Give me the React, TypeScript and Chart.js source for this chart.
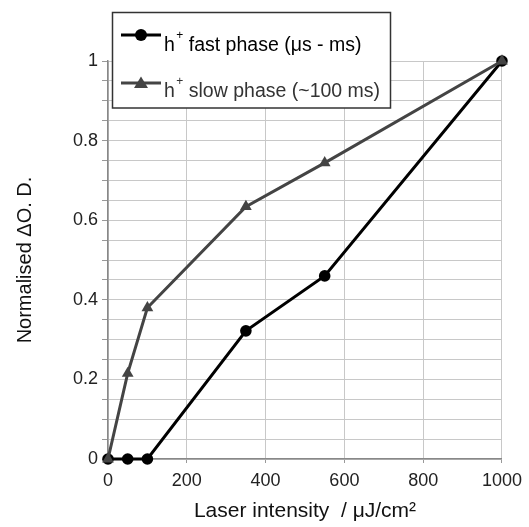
import React, { useEffect, useRef } from "react";
import { Chart, registerables } from "chart.js";

Chart.register(...registerables);

const intensities = [0, 50, 100, 350, 550, 1000];
const fastPhase = [0, 0, 0, 0.322, 0.46, 1];
const slowPhase = [0, 0.215, 0.38, 0.634, 0.744, 1];
const seriesLabels = ["fast phase (\u03bcs - ms)", "slow phase (~100 ms)"];
const xTitle = "Laser intensity  / \u03bcJ/cm\u00b2";
const yTitle = "Normalised \u0394O. D.";

const FONT = "'Liberation Sans', Arial, sans-serif";

const legendPlugin = {
  id: "customLegend",
  afterDraw(chart: any) {
    const ctx = chart.ctx as CanvasRenderingContext2D;
    ctx.save();
    ctx.fillStyle = "#fff";
    ctx.fillRect(112.5, 12.5, 278, 95.5);
    ctx.strokeStyle = "#333";
    ctx.lineWidth = 1.5;
    ctx.strokeRect(112.5, 12.5, 278, 95.5);
    const entries = [
      { color: "#000", ly: 35, ty: 51, marker: "circle", text: seriesLabels[0], tcolor: "#000" },
      { color: "#444", ly: 83, ty: 97, marker: "tri", text: seriesLabels[1], tcolor: "#333" },
    ];
    for (const e of entries) {
      ctx.strokeStyle = e.color;
      ctx.lineWidth = 3;
      ctx.beginPath();
      ctx.moveTo(121, e.ly);
      ctx.lineTo(161, e.ly);
      ctx.stroke();
      ctx.fillStyle = e.color;
      ctx.beginPath();
      if (e.marker === "circle") {
        ctx.arc(141, e.ly, 6, 0, Math.PI * 2);
      } else {
        ctx.moveTo(141, e.ly - 6.5);
        ctx.lineTo(148, e.ly + 5);
        ctx.lineTo(134, e.ly + 5);
        ctx.closePath();
      }
      ctx.fill();
      ctx.fillStyle = e.tcolor;
      ctx.textBaseline = "alphabetic";
      ctx.textAlign = "left";
      ctx.font = `19.5px ${FONT}`;
      let x = 164;
      ctx.fillText("h", x, e.ty);
      x += ctx.measureText("h").width + 1.5;
      ctx.font = `12px ${FONT}`;
      ctx.fillText("+", x, e.ty - 12);
      x += ctx.measureText("+").width;
      ctx.font = `19.5px ${FONT}`;
      ctx.fillText(" " + e.text, x, e.ty);
    }
    ctx.restore();
  },
};

export default function App() {
  const ref = useRef<HTMLCanvasElement>(null);
  useEffect(() => {
    if (!ref.current) return;
    const chart = new Chart(ref.current, {
      type: "line",
      data: {
        datasets: [
          {
            label: seriesLabels[0],
            data: intensities.map((x, i) => ({ x, y: fastPhase[i] })),
            borderColor: "#000",
            backgroundColor: "#000",
            borderWidth: 3,
            pointStyle: "circle",
            pointRadius: 5.8,
            pointBorderWidth: 0,
            tension: 0,
            clip: false as any,
            order: 2,
          },
          {
            label: seriesLabels[1],
            data: intensities.map((x, i) => ({ x, y: slowPhase[i] })),
            borderColor: "#444",
            backgroundColor: "#444",
            borderWidth: 3,
            pointStyle: "triangle",
            pointRadius: 6.8,
            pointBorderWidth: 0,
            tension: 0,
            clip: false as any,
            order: 1,
          },
        ],
      },
      options: {
        animation: false,
        responsive: true,
        maintainAspectRatio: false,
        layout: { padding: { top: 61, right: 23, left: 0, bottom: 0 } },
        plugins: { legend: { display: false }, tooltip: { enabled: false } },
        scales: {
          x: {
            type: "linear",
            min: 0,
            max: 1000,
            afterFit: (s: any) => {
              s.height = 68;
            },
            ticks: {
              stepSize: 200,
              color: "#222",
              font: { family: FONT, size: 18 },
              padding: 7,
              callback: (v: any) => String(v),
            },
            grid: { color: "#c8c8c8", lineWidth: 1, tickLength: 4, tickColor: "#999" },
            border: { color: "#888", width: 1.5 },
            title: {
              display: true,
              text: xTitle,
              color: "#111",
              font: { family: FONT, size: 21 },
              padding: { top: 0, bottom: 3 },
            },
          },
          y: {
            type: "linear",
            min: 0,
            max: 1,
            afterFit: (s: any) => {
              s.width = 108;
            },
            ticks: {
              stepSize: 0.05,
              autoSkip: false,
              color: "#222",
              font: { family: FONT, size: 18 },
              padding: 4,
              callback: (v: any) => {
                const r = Math.round(Number(v) * 100);
                return r % 20 === 0 ? String(r / 100) : "";
              },
            },
            grid: { color: "#c8c8c8", lineWidth: 1, tickLength: 6, tickColor: "#999" },
            border: { color: "#888", width: 1.5 },
            title: {
              display: true,
              text: yTitle,
              color: "#111",
              font: { family: FONT, size: 20 },
              padding: { top: 13, bottom: 0 },
            },
          },
        },
      },
      plugins: [legendPlugin],
    });
    return () => chart.destroy();
  }, []);
  return (
    <div style={{ position: "fixed", left: 0, top: 0, width: 529, height: 527, background: "#fff" }}>
      <canvas ref={ref} />
    </div>
  );
}
